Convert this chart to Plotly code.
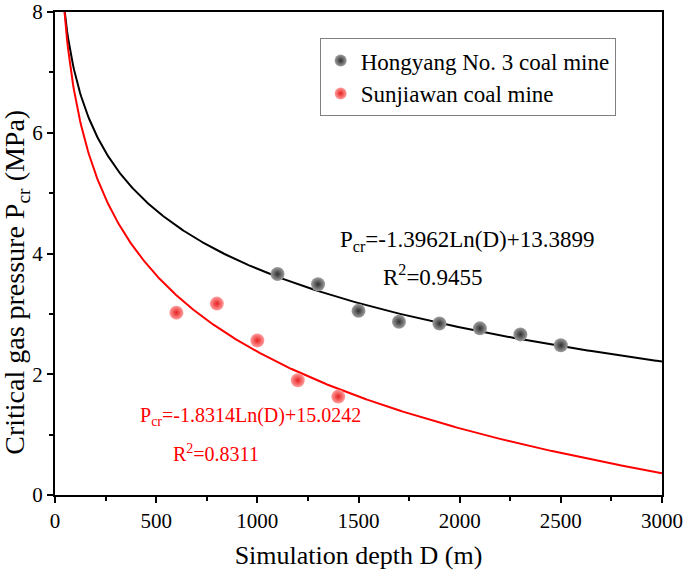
import numpy as np
import plotly.graph_objects as go

# Data
hy_depth = [1100, 1300, 1500, 1700, 1900, 2100, 2300, 2500]
hy_p = [3.66, 3.49, 3.05, 2.87, 2.84, 2.76, 2.66, 2.48]
sj_depth = [600, 800, 1000, 1200, 1400]
sj_p = [3.02, 3.17, 2.56, 1.90, 1.63]
hy_fit = (-1.3962, 13.3899)
sj_fit = (-1.8314, 15.0242)
x_ticks = [0, 500, 1000, 1500, 2000, 2500, 3000]
y_ticks = [0, 2, 4, 6, 8]

FONT = "Liberation Serif"
D = np.linspace(40, 3000, 600)

fig = go.Figure()
fig.add_trace(go.Scatter(x=D, y=hy_fit[0] * np.log(D) + hy_fit[1], mode="lines",
                         line=dict(color="black", width=2), showlegend=False, hoverinfo="skip"))
fig.add_trace(go.Scatter(x=D, y=sj_fit[0] * np.log(D) + sj_fit[1], mode="lines",
                         line=dict(color="red", width=2), showlegend=False, hoverinfo="skip"))
fig.add_trace(go.Scatter(x=hy_depth, y=hy_p, mode="markers", name="Hongyang No. 3 coal mine",
                         marker=dict(size=14, color="#a0a0a0",
                                     gradient=dict(type="radial", color="#303030"),
                                     line=dict(width=0))))
fig.add_trace(go.Scatter(x=sj_depth, y=sj_p, mode="markers", name="Sunjiawan coal mine",
                         marker=dict(size=14, color="#ffa0a0",
                                     gradient=dict(type="radial", color="#e82020"),
                                     line=dict(width=0))))

ann_font_b = dict(family=FONT, size=23, color="black")
ann_font_r = dict(family=FONT, size=20, color="red")
fig.add_annotation(x=2035, y=4.2, text="P<sub>cr</sub>=-1.3962Ln(D)+13.3899", showarrow=False, font=ann_font_b)
fig.add_annotation(x=1868, y=3.63, text="R<sup>2</sup>=0.9455", showarrow=False, font=ann_font_b)
fig.add_annotation(x=964, y=1.30, text="P<sub>cr</sub>=-1.8314Ln(D)+15.0242", showarrow=False, font=ann_font_r)
fig.add_annotation(x=796, y=0.70, text="R<sup>2</sup>=0.8311", showarrow=False, font=ann_font_r)

# y-axis title as a rotated annotation
fig.add_annotation(xref="paper", yref="paper", x=-0.063, y=0.441, textangle=-90,
                   xanchor="center", yanchor="middle",
                   text="Critical gas pressure P<sub>cr</sub> (MPa)", showarrow=False,
                   font=dict(family=FONT, size=28, color="black"))

axis_common = dict(showgrid=False, zeroline=False, showline=True, linecolor="black", linewidth=2,
                   mirror=True, ticks="outside", tickwidth=1.5, ticklen=6, tickcolor="black",
                   automargin=False, ticklabeloverflow="allow",
                   tickfont=dict(family=FONT, size=21, color="black"))
fig.update_xaxes(range=[0, 3000], tickvals=x_ticks,
                 minor=dict(dtick=250, ticks="outside", ticklen=4, tickwidth=1.5, tickcolor="black"),
                 title=dict(text="Simulation depth D (m)", font=dict(family=FONT, size=26, color="black"),
                            standoff=14),
                 **axis_common)
fig.update_yaxes(range=[0, 8], tickvals=y_ticks,
                 minor=dict(dtick=1, ticks="outside", ticklen=4, tickwidth=1.5, tickcolor="black"),
                 **axis_common)

fig.update_layout(
    width=685, height=571,
    margin=dict(l=55, r=23, t=12, b=76),
    plot_bgcolor="white", paper_bgcolor="white",
    font=dict(family=FONT, color="black"),
    legend=dict(x=0.436, y=0.946, xanchor="left", yanchor="top",
                bordercolor="#808080", borderwidth=1, bgcolor="white",
                font=dict(family=FONT, size=23, color="black"),
                itemsizing="constant"),
)

fig.write_html("out.html", config={"displayModeBar": False},
               post_script="document.body.style.margin='0px';document.body.style.padding='0px';")
